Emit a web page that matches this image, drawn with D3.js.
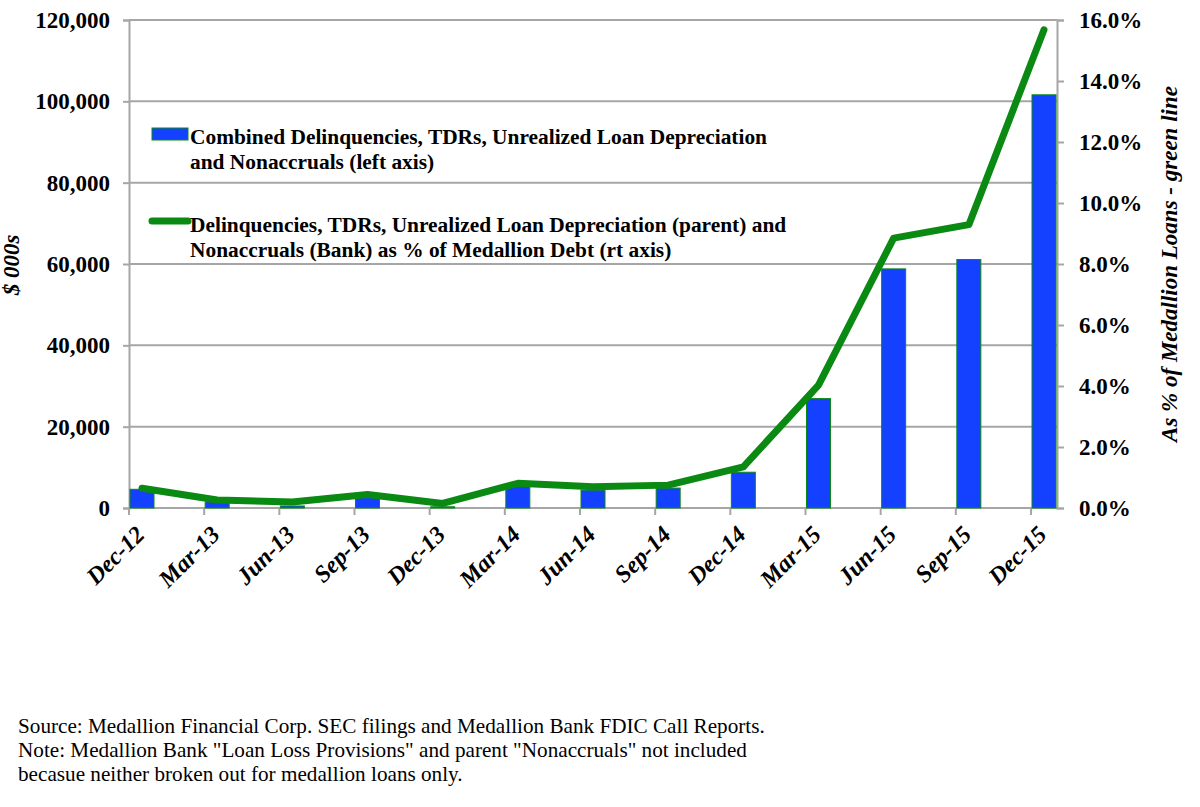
<!DOCTYPE html>
<html>
<head>
<meta charset="utf-8">
<script src="https://cdn.jsdelivr.net/npm/d3@7"></script>
<style>
  body { margin: 0; background: #fff; }
  svg { font-family: "Liberation Serif", "Times New Roman", serif; }
</style>
</head>
<body>
<div id="chart"></div>
<script>
"use strict";

// quarters on the category axis
var quarters = ["Dec-12", "Mar-13", "Jun-13", "Sep-13", "Dec-13", "Mar-14", "Jun-14",
                "Sep-14", "Dec-14", "Mar-15", "Jun-15", "Sep-15", "Dec-15"];

// $000s, left axis (blue bars)
var combinedAmounts = [4600, 1500, 500, 2800, 300, 5500, 4400, 4900, 8800, 26900, 58800, 61100, 101600];

// % of medallion debt, right axis (green line)
var pctOfDebt = [0.65, 0.26, 0.20, 0.44, 0.15, 0.81, 0.70, 0.75, 1.35, 4.03, 8.85, 9.29, 15.68];

var leftTicks = [0, 20000, 40000, 60000, 80000, 100000, 120000];
var rightTicks = [0, 2, 4, 6, 8, 10, 12, 14, 16];

var legendLabels = [
    ["Combined Delinquencies, TDRs, Unrealized Loan Depreciation", "and Nonaccruals (left axis)"],
    ["Delinquencies, TDRs, Unrealized Loan Depreciation (parent) and", "Nonaccruals (Bank) as % of Medallion Debt (rt axis)"]
];

var footnotes = [
    "Source: Medallion Financial Corp. SEC filings and Medallion Bank FDIC Call Reports.",
    "Note: Medallion Bank \"Loan Loss Provisions\" and parent \"Nonaccruals\" not included",
    "becasue neither broken out for medallion loans only."
];

(function(){
    var W = 1200, H = 807,
        left = 129, right = 1057, top = 20, bottom = 508,
        barW = 24,
        gridColor = "#a6a6a6",
        blue = "#1440ff",
        green = "#0a8a12";

    var svg = d3.select("#chart").append("svg")
        .attr("width", W)
        .attr("height", H);

    var x = d3.scalePoint().domain(quarters).range([left, 1031]);
    var yL = d3.scaleLinear().domain([0, 120000]).range([bottom, top]);
    var yR = d3.scaleLinear().domain([0, 16]).range([bottom, top]);

    // gridlines
    svg.append("g").selectAll("line")
        .data(leftTicks)
        .enter().append("line")
        .attr("x1", left).attr("x2", right)
        .attr("y1", function(d){ return yL(d); })
        .attr("y2", function(d){ return yL(d); })
        .attr("stroke", gridColor)
        .attr("stroke-width", 2);

    // left axis
    var axL = svg.append("g")
        .attr("transform", "translate(" + left + ",0)")
        .call(d3.axisLeft(yL).tickValues(leftTicks).tickSize(6).tickPadding(13)
            .tickFormat(d3.format(",")));
    axL.select(".domain").attr("stroke", gridColor).attr("stroke-width", 2);
    axL.selectAll(".tick line").attr("stroke", gridColor).attr("stroke-width", 2);
    axL.selectAll("text")
        .attr("font-family", "Liberation Serif")
        .attr("font-size", 23).attr("font-weight", "bold").attr("fill", "#000");

    // right axis
    var axR = svg.append("g")
        .attr("transform", "translate(" + right + ",0)")
        .call(d3.axisRight(yR).tickValues(rightTicks).tickSize(7).tickPadding(15)
            .tickFormat(function(d){ return d.toFixed(1) + "%"; }));
    axR.select(".domain").attr("stroke", gridColor).attr("stroke-width", 2);
    axR.selectAll(".tick line").attr("stroke", gridColor).attr("stroke-width", 2);
    axR.selectAll("text")
        .attr("font-family", "Liberation Serif")
        .attr("font-size", 23).attr("font-weight", "bold").attr("fill", "#000");

    // x axis line + ticks
    svg.append("line")
        .attr("x1", left).attr("x2", right)
        .attr("y1", bottom).attr("y2", bottom)
        .attr("stroke", gridColor).attr("stroke-width", 2);
    svg.append("g").selectAll("line")
        .data(quarters)
        .enter().append("line")
        .attr("x1", function(d){ return x(d); })
        .attr("x2", function(d){ return x(d); })
        .attr("y1", bottom).attr("y2", bottom + 7)
        .attr("stroke", gridColor).attr("stroke-width", 2);

    // x labels
    svg.append("g").selectAll("text")
        .data(quarters)
        .enter().append("text")
        .attr("transform", function(d){ return "translate(" + (x(d) + 17) + "," + (bottom + 28) + ") rotate(-45)"; })
        .attr("text-anchor", "end")
        .attr("font-size", 24)
        .attr("font-weight", "bold")
        .attr("font-style", "italic")
        .text(function(d){ return d; });

    // bars
    svg.append("g").selectAll("rect")
        .data(combinedAmounts)
        .enter().append("rect")
        .attr("x", function(d, i){ return x(quarters[i]) + 1; })
        .attr("y", function(d){ return yL(d); })
        .attr("width", barW)
        .attr("height", function(d){ return bottom - yL(d); })
        .attr("fill", blue)
        .attr("stroke", green)
        .attr("stroke-width", 1);

    // line
    var line = d3.line()
        .x(function(d, i){ return x(quarters[i]) + 1 + barW / 2; })
        .y(function(d){ return yR(d); });

    svg.append("path")
        .datum(pctOfDebt)
        .attr("d", line)
        .attr("fill", "none")
        .attr("stroke", green)
        .attr("stroke-width", 7)
        .attr("stroke-linejoin", "round")
        .attr("stroke-linecap", "round");

    // legend
    var leg = svg.append("g");
    leg.append("rect")
        .attr("x", 152).attr("y", 128)
        .attr("width", 36).attr("height", 12)
        .attr("fill", blue).attr("stroke", green).attr("stroke-width", 1);
    leg.append("line")
        .attr("x1", 152).attr("x2", 188)
        .attr("y1", 221).attr("y2", 221)
        .attr("stroke", green).attr("stroke-width", 7)
        .attr("stroke-linecap", "round");

    legendLabels.forEach(function(lines, k){
        lines.forEach(function(t, j){
            leg.append("text")
                .attr("x", 190)
                .attr("y", (k === 0 ? 144 : 232) + j * 25)
                .attr("font-size", 21.4)
                .attr("font-weight", "bold")
                .text(t);
        });
    });

    // axis titles
    svg.append("text")
        .attr("transform", "translate(19,265) rotate(-90)")
        .attr("text-anchor", "middle")
        .attr("font-size", 23).attr("font-weight", "bold").attr("font-style", "italic")
        .text("$ 000s");

    svg.append("text")
        .attr("transform", "translate(1177,264) rotate(-90)")
        .attr("text-anchor", "middle")
        .attr("font-size", 23).attr("font-weight", "bold").attr("font-style", "italic")
        .text("As % of Medallion Loans - green line");

    // footnotes
    svg.append("g").selectAll("text")
        .data(footnotes)
        .enter().append("text")
        .attr("x", 18)
        .attr("y", function(d, i){ return 733 + i * 24; })
        .attr("font-size", 21.2)
        .text(function(d){ return d; });
})();
</script>
</body>
</html>
